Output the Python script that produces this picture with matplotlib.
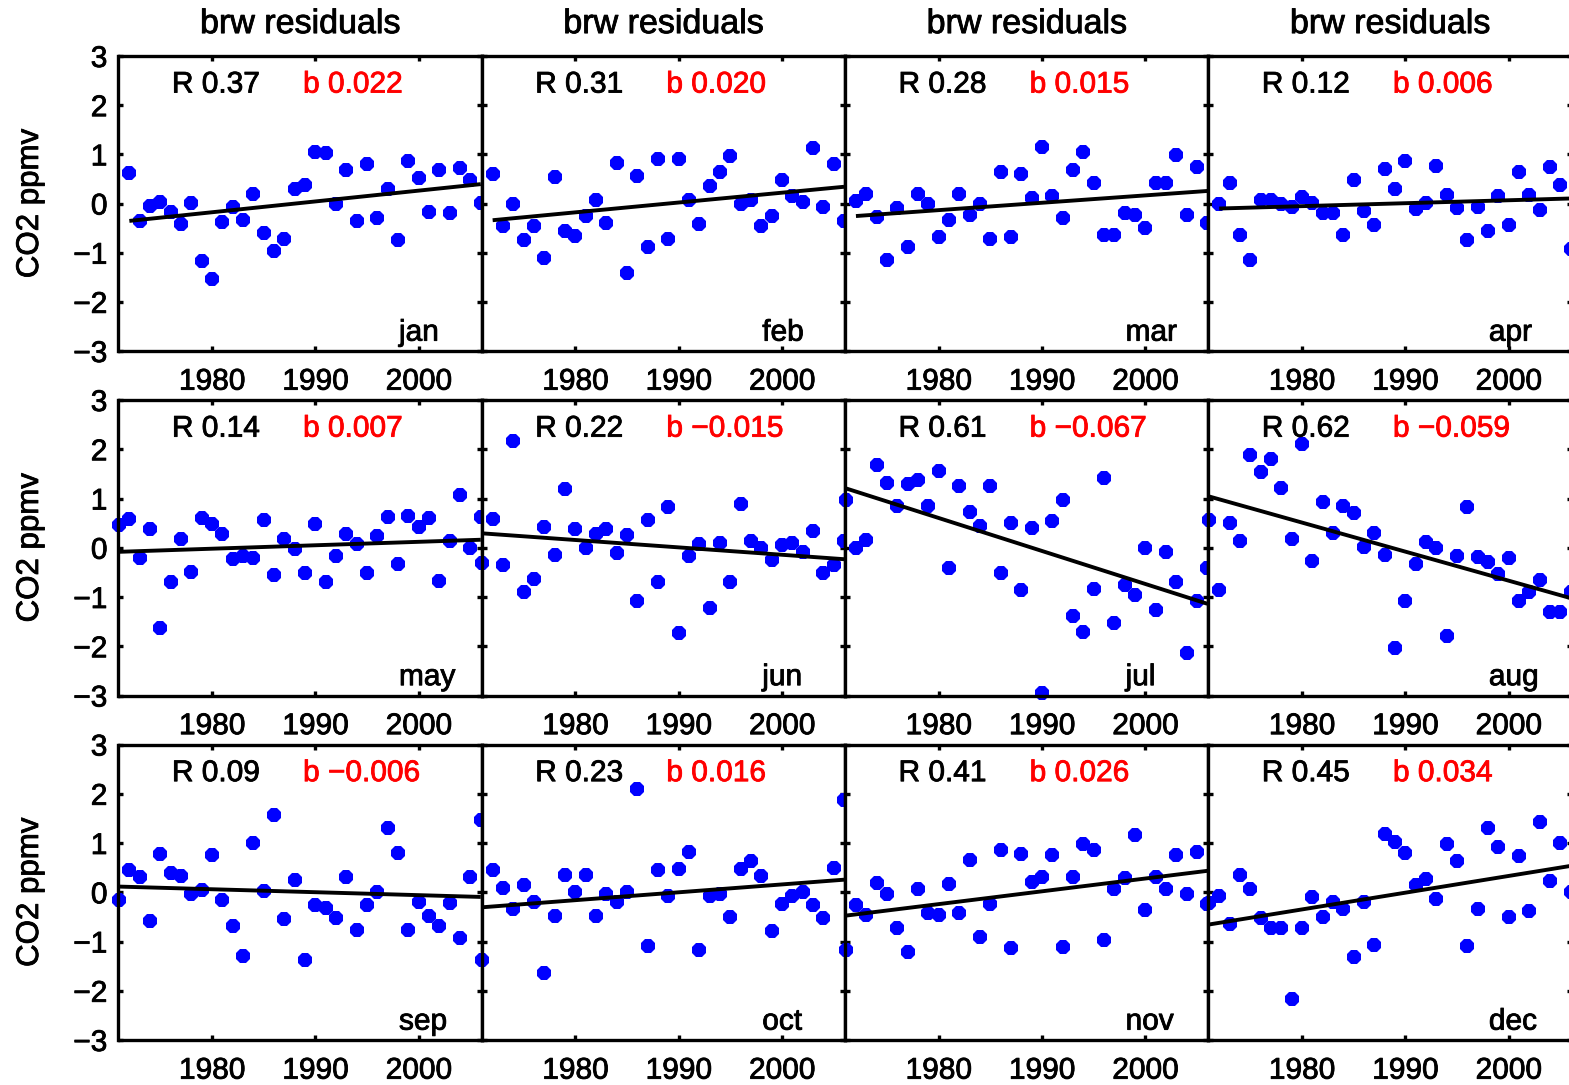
import numpy as np
import matplotlib
matplotlib.use("Agg")
import matplotlib.pyplot as plt
import matplotlib.patheffects as pe

plt.rcParams["font.family"] = ["Liberation Sans", "DejaVu Sans"]
plt.rcParams["axes.unicode_minus"] = True

months = ["jan", "feb", "mar", "apr", "may", "jun",
          "jul", "aug", "sep", "oct", "nov", "dec"]

# Jan-Apr residuals start in 1972, May-Dec in 1971
years_a = np.arange(1972, 2007)
years_b = np.arange(1971, 2007)

jan = [0.62, -0.35, -0.05, 0.03, -0.17, -0.42, 0.01, -1.17, -1.54, -0.37,
       -0.07, -0.34, 0.19, -0.60, -0.96, -0.73, 0.30, 0.37, 1.05, 1.02,
       -0.01, 0.69, -0.35, 0.80, -0.30, 0.30, -0.75, 0.87, 0.51, -0.17,
       0.68, -0.19, 0.73, 0.47, 0.01]
feb = [0.60, -0.46, -0.01, -0.75, -0.46, -1.10, 0.54, -0.56, -0.66, -0.26,
       0.07, -0.39, 0.83, -1.41, 0.56, -0.88, 0.91, -0.73, 0.91, 0.08,
       -0.42, 0.35, 0.64, 0.96, 0.00, 0.08, -0.46, -0.26, 0.47, 0.15,
       0.03, 1.12, -0.07, 0.80, -0.35]
mar = [0.05, 0.19, -0.27, -1.14, -0.10, -0.88, 0.19, -0.01, -0.69, -0.33,
       0.19, -0.24, 0.00, -0.73, 0.64, -0.69, 0.61, 0.12, 1.15, 0.15,
       -0.30, 0.68, 1.05, 0.42, -0.64, -0.64, -0.19, -0.24, -0.49, 0.42,
       0.42, 0.98, -0.24, 0.75, -0.39]
apr = [-0.01, 0.42, -0.64, -1.14, 0.07, 0.07, 0.00, -0.08, 0.14, 0.01,
       -0.19, -0.19, -0.64, 0.47, -0.15, -0.44, 0.71, 0.30, 0.87, -0.12,
       0.01, 0.76, 0.17, -0.10, -0.75, -0.08, -0.56, 0.15, -0.44, 0.64,
       0.17, -0.14, 0.75, 0.37, -0.93]
may = [0.46, 0.59, -0.20, 0.38, -1.62, -0.69, 0.18, -0.50, 0.61, 0.49,
       0.27, -0.22, -0.16, -0.20, 0.56, -0.55, 0.18, -0.03, -0.52, 0.49,
       -0.69, -0.16, 0.27, 0.07, -0.52, 0.24, 0.63, -0.32, 0.65, 0.43,
       0.61, -0.68, 0.14, 1.07, -0.01, 0.63]
jun = [-0.30, 0.59, -0.36, 2.16, -0.89, -0.64, 0.43, -0.15, 1.20, 0.39,
       0.00, 0.27, 0.39, -0.11, 0.26, -1.08, 0.56, -0.70, 0.83, -1.74,
       -0.16, 0.07, -1.23, 0.09, -0.70, 0.88, 0.14, -0.01, -0.25, 0.05,
       0.09, -0.09, 0.34, -0.52, -0.35, 0.14]
jul = [0.97, 0.00, 0.16, 1.68, 1.32, 0.85, 1.30, 1.37, 0.85, 1.55,
       -0.41, 1.26, 0.73, 0.45, 1.26, -0.52, 0.51, -0.86, 0.41, -2.95,
       0.54, 0.97, -1.38, -1.72, -0.84, 1.42, -1.53, -0.76, -0.96, 0.00,
       -1.26, -0.09, -0.69, -2.14, -1.08, -0.41]
aug = [0.56, -0.86, 0.51, 0.14, 1.89, 1.53, 1.80, 1.22, 0.18, 2.11,
       -0.27, 0.92, 0.29, 0.85, 0.70, 0.02, 0.29, -0.15, -2.04, -1.09,
       -0.34, 0.12, 0.00, -1.80, -0.16, 0.83, -0.18, -0.28, -0.54, -0.20,
       -1.09, -0.89, -0.66, -1.31, -1.30, -0.89]
sep = [-0.16, 0.46, 0.31, -0.58, 0.77, 0.39, 0.32, -0.03, 0.05, 0.75,
       -0.15, -0.69, -1.30, 1.00, 0.03, 1.56, -0.55, 0.24, -1.38, -0.26,
       -0.31, -0.53, 0.30, -0.77, -0.26, 0.01, 1.31, 0.80, -0.76, -0.20,
       -0.49, -0.69, -0.22, -0.92, 0.30, 1.47]
oct_ = [-1.38, 0.46, 0.09, -0.35, 0.14, -0.20, -1.64, -0.49, 0.36, 0.01,
        0.36, -0.49, -0.04, -0.20, 0.01, 2.10, -1.09, 0.45, -0.08, 0.48,
        0.82, -1.18, -0.08, -0.04, -0.51, 0.48, 0.64, 0.34, -0.78, -0.24,
        -0.08, 0.01, -0.26, -0.53, 0.50, 1.88]
nov = [-1.18, -0.26, -0.47, 0.19, -0.04, -0.72, -1.21, 0.07, -0.42, -0.47,
       0.16, -0.42, 0.66, -0.91, -0.24, 0.86, -1.14, 0.78, 0.21, 0.30,
       0.75, -1.12, 0.31, 0.97, 0.85, -0.96, 0.07, 0.28, 1.16, -0.36,
       0.31, 0.07, 0.75, -0.04, 0.82, -0.23]
dec = [-0.22, -0.08, -0.65, 0.36, 0.07, -0.53, -0.72, -0.72, -2.16, -0.72,
       -0.09, -0.50, -0.20, -0.33, -1.31, -0.20, -1.07, 1.19, 1.02, 0.80,
       0.14, 0.26, -0.13, 0.97, 0.64, -1.09, -0.33, 1.31, 0.91, -0.50,
       0.73, -0.38, 1.43, 0.23, 1.00, 0.01]

series = [jan, feb, mar, apr, may, jun, jul, aug, sep, oct_, nov, dec]

# correlation and trend slope (ppmv per year) of each month
r_values = [0.37, 0.31, 0.28, 0.12, 0.14, 0.22, 0.61, 0.62, 0.09, 0.23, 0.41, 0.45]
b_values = [0.022, 0.020, 0.015, 0.006, 0.007, -0.015, -0.067, -0.059,
            -0.006, 0.016, 0.026, 0.034]
# level of the fitted trend at the middle of each record
trend_mid = [0.02, 0.00, 0.00, 0.00, 0.04, 0.03, 0.035, 0.01, 0.01, -0.025, -0.02, -0.06]

W, H = 1569, 1085
fig = plt.figure(figsize=(W / 100, H / 100), dpi=100)

col_left = [118.5, 481.8, 845.1, 1208.4]
col_w = 363.3
row_top = [56.0, 400.0, 744.5]
row_bot = [351.0, 695.5, 1040.0]

FS = 21.5
LW = 2.4


def heavy(color):
    return [pe.withStroke(linewidth=0.6, foreground=color)]


for i, month in enumerate(months):
    r, c = divmod(i, 4)
    ax = fig.add_axes([col_left[c] / W, 1 - row_bot[r] / H,
                       col_w / W, (row_bot[r] - row_top[r]) / H])
    yrs = years_a if i < 4 else years_b
    vals = series[i]
    b = b_values[i]

    ax.plot(yrs, vals, ls="none", marker="8", ms=11.0, mfc="#0000ff",
            mec="#0000ff", mew=0, clip_on=False, zorder=2)

    x0, x1 = yrs[0], yrs[-1]
    xm = 0.5 * (x0 + x1)
    ax.plot([x0, x1], [trend_mid[i] + b * (x0 - xm), trend_mid[i] + b * (x1 - xm)],
            color="black", lw=2.8, solid_capstyle="butt", zorder=2.2)

    ax.set_xlim(1970.95, 2006.1)
    ax.set_ylim(-3, 3)
    ax.set_xticks([1980, 1990, 2000])
    ax.set_yticks(range(-3, 4))
    ax.tick_params(direction="in", length=3.5, width=LW, top=True, right=True,
                   labelsize=FS, colors="black")
    ax.tick_params(axis="x", pad=12)
    ax.tick_params(axis="y", pad=8, labelleft=(c == 0))
    for sp in ax.spines.values():
        sp.set_linewidth(LW)
    for lab in ax.get_xticklabels() + ax.get_yticklabels():
        lab.set_path_effects(heavy("black"))

    ax.text(0.147, 0.876, f"R {r_values[i]:.2f}", transform=ax.transAxes,
            fontsize=FS, ha="left", va="baseline", zorder=4,
            path_effects=heavy("black"))
    btxt = f"b {b:.3f}".replace("-", "\u2212")
    ax.text(0.508, 0.876, btxt, transform=ax.transAxes, color="#ff0000",
            fontsize=FS, ha="left", va="baseline", zorder=4,
            path_effects=heavy("#ff0000"))
    ax.text(0.772, 0.035, month, transform=ax.transAxes,
            fontsize=FS, ha="left", va="baseline", zorder=4,
            path_effects=heavy("black"))

    if r == 0:
        ax.set_title("brw residuals", fontsize=24.5, pad=16.5,
                      path_effects=heavy("black"))

for r in range(3):
    yc = 0.5 * (row_top[r] + row_bot[r])
    fig.text(30 / W, 1 - yc / H, "CO2 ppmv", rotation=90, fontsize=22.5,
             ha="center", va="center", path_effects=heavy("black"))

fig.savefig("out.png", dpi=100)
